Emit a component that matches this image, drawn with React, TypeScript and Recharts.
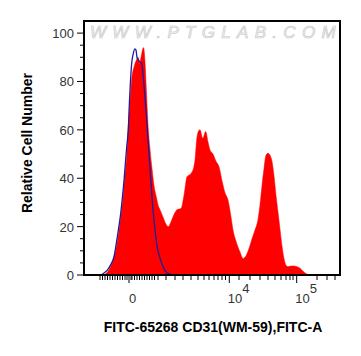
import React from 'react';
import { ComposedChart, Area, Line, XAxis, YAxis, ReferenceArea } from 'recharts';

// red (CD31-stained) histogram: display channel position, relative count
const redX = [20, 24, 28, 32, 35, 37, 39, 41, 42.5, 44, 46, 48, 50, 52.5, 54, 55.5, 57, 58.5, 59.5, 61, 62.5, 64, 66, 68, 70, 72.5, 74, 76, 79, 82, 84.5, 87, 90, 93, 97, 100, 103, 107, 110, 111, 112.7, 114, 116, 118.7, 121.7, 124, 126, 129, 132, 135, 138, 141, 144, 147, 149.3, 152, 156, 159, 162, 165, 168, 171, 174, 176, 178, 180, 182, 184, 186, 188, 190, 192, 194, 196, 198, 200, 202, 204, 207, 210, 213, 216, 219, 222, 225];
const redY = [0, 1.5, 5, 11, 18.6, 25, 32, 42, 48, 60, 72, 82, 86, 89, 90, 87.5, 90, 93, 94, 88, 75, 62, 52, 44, 37, 32, 29, 27, 24, 21, 20, 22, 25, 27, 27.5, 33, 40.6, 42, 45, 47.5, 56, 59, 60, 56.5, 59.3, 55, 51.7, 50, 47, 44.8, 39, 34, 31, 24, 18, 14, 9.5, 6.8, 8, 11, 15, 18.6, 23, 29, 37, 44, 49.5, 50.3, 49.5, 47, 41, 33, 26, 19, 12, 6.8, 4, 3.4, 3.7, 3.7, 3.4, 2.8, 1.6, 0.6, 0];

// blue (isotype control) histogram
const blueX = [0, 16, 20, 23.3, 27, 30, 33.3, 36.7, 40, 42.7, 44.3, 45.5, 47.7, 49.3, 51, 52, 53, 54.3, 56, 57.7, 59, 61, 64.3, 67, 69, 71, 73, 76, 79, 82.7, 88];
const blueY = [0, 0, 0.8, 2, 4.5, 7.6, 15.8, 25.5, 39, 53, 60, 72, 87.5, 91.6, 93.5, 93, 90, 89, 88, 87.5, 83, 73.7, 54.4, 38, 27, 18.6, 12, 7, 3.5, 1, 0];

// x axis ticks (biexponential display positions)
const xTickPositions = [16, 18.5, 21, 23.5, 26, 28.5, 31, 33.5, 36, 38.5, 41, 43, 45, 47, 48, 50.5, 53, 55.5, 58, 60.5, 63, 65.5, 68, 70.5, 74, 82, 91, 99, 107, 114, 120, 125, 130, 134, 138, 141.5, 145.3, 155, 166, 176, 184, 191, 197, 202, 206, 209, 212.7, 233, 243, 251];
const xMajorTicks = [45, 145.3, 212.7];
const xMajorBase = ['0', '10', '10'];
const xMajorExp = ['', '4', '5'];

// y axis ticks
const yTickValues = [0, 5, 10, 15, 20, 25, 30, 35, 40, 45, 50, 55, 60, 65, 70, 75, 80, 85, 90, 95, 100];
const yLabeled = [0, 20, 40, 60, 80, 100];

const xTitle = 'FITC-65268 CD31(WM-59),FITC-A';
const yTitle = 'Relative Cell Number';
const watermark = 'WWW.PTGLAB.COM';

const allX = Array.from(new Set([...redX, ...blueX])).sort((a, b) => a - b);
const data = allX.map((x) => {
  const ri = redX.indexOf(x);
  const bi = blueX.indexOf(x);
  return {
    x,
    red: ri >= 0 ? redY[ri] : null,
    blue: bi >= 0 ? blueY[bi] : null,
  };
});

const FONT = 'Arial, "Liberation Sans", Helvetica, sans-serif';

const XTick = (props: any) => {
  const { x, y, payload } = props;
  const v = payload.value;
  const mi = xMajorTicks.indexOf(v);
  const major = mi >= 0;
  return (
    <g>
      <line x1={x} y1={y} x2={x} y2={y + (major ? 8 : 5)} stroke="#000" strokeWidth={1} />
      {major && xMajorExp[mi] === '' && (
        <text x={x + 3.7} y={y + 28.3} textAnchor="middle" fontSize={13} fontFamily={FONT} fill="#333">
          {xMajorBase[mi]}
        </text>
      )}
      {major && xMajorExp[mi] !== '' && (
        <text x={x - 1.5} y={y + 28.3} textAnchor="start" fontSize={13} fontFamily={FONT} fill="#333">
          {xMajorBase[mi]}
          <tspan dy={-10}>{xMajorExp[mi]}</tspan>
        </text>
      )}
    </g>
  );
};

const YTick = (props: any) => {
  const { x, y, payload } = props;
  const v = payload.value;
  const major = yLabeled.indexOf(v) >= 0;
  return (
    <g>
      <line x1={x - (major ? 7 : 4)} y1={y} x2={x} y2={y} stroke="#000" strokeWidth={1} />
      {major && (
        <text x={x - 10} y={y + 5} textAnchor="end" fontSize={13} fontFamily={FONT} fill="#333">
          {v}
        </text>
      )}
    </g>
  );
};

export default function App() {
  const W = 353;
  const H = 348;
  return (
    <div style={{ position: 'relative', width: W, height: H }}>
      <ComposedChart width={W} height={H} data={data} margin={{ top: 13, right: 21, bottom: 0, left: 0 }}>
        <XAxis
          dataKey="x"
          type="number"
          domain={[0, 256]}
          ticks={xTickPositions}
          interval={0}
          height={81}
          tickSize={0}
          tickMargin={0}
          tickLine={false}
          tick={<XTick />}
          axisLine={{ stroke: '#000', strokeWidth: 2 }}
          allowDataOverflow
        />
        <YAxis
          type="number"
          domain={[0, 105]}
          ticks={yTickValues}
          interval={0}
          width={76}
          tickSize={0}
          tickMargin={0}
          tickLine={false}
          tick={<YTick />}
          axisLine={{ stroke: '#000', strokeWidth: 2 }}
          allowDataOverflow
        />
        <Area
          type="monotone"
          dataKey="red"
          fill="#ff0000"
          fillOpacity={1}
          stroke="#ff0000"
          strokeWidth={0.5}
          connectNulls
          dot={false}
          activeDot={false}
          isAnimationActive={false}
        />
        <Line
          type="monotone"
          dataKey="blue"
          stroke="#1c1c9c"
          strokeWidth={1.3}
          connectNulls
          dot={false}
          activeDot={false}
          isAnimationActive={false}
        />
        <ReferenceArea x1={0} x2={256} y1={0} y2={105} fill="none" fillOpacity={0} stroke="#000" strokeWidth={2} ifOverflow="visible" />
      </ComposedChart>
      <svg width={W} height={H} style={{ position: 'absolute', left: 0, top: 0, pointerEvents: 'none' }}>
        <text
          x={82}
          y={30}
          fontSize={17}
          fontStyle="italic"
          fontFamily={FONT}
          letterSpacing={6.3}
          fill="#f4f4f4"
          stroke="#c4c4c4"
          strokeWidth={0.6}
        >
          {watermark}
        </text>
        <text
          x={24}
          y={135}
          transform="rotate(-90, 24, 135)"
          textAnchor="middle"
          fontSize={14}
          fontWeight="bold"
          fontFamily={FONT}
          fill="#000"
        >
          {yTitle}
        </text>
        <text x={205} y={324} textAnchor="middle" fontSize={14} fontWeight="bold" fontFamily={FONT} fill="#000">
          {xTitle}
        </text>
      </svg>
    </div>
  );
}
